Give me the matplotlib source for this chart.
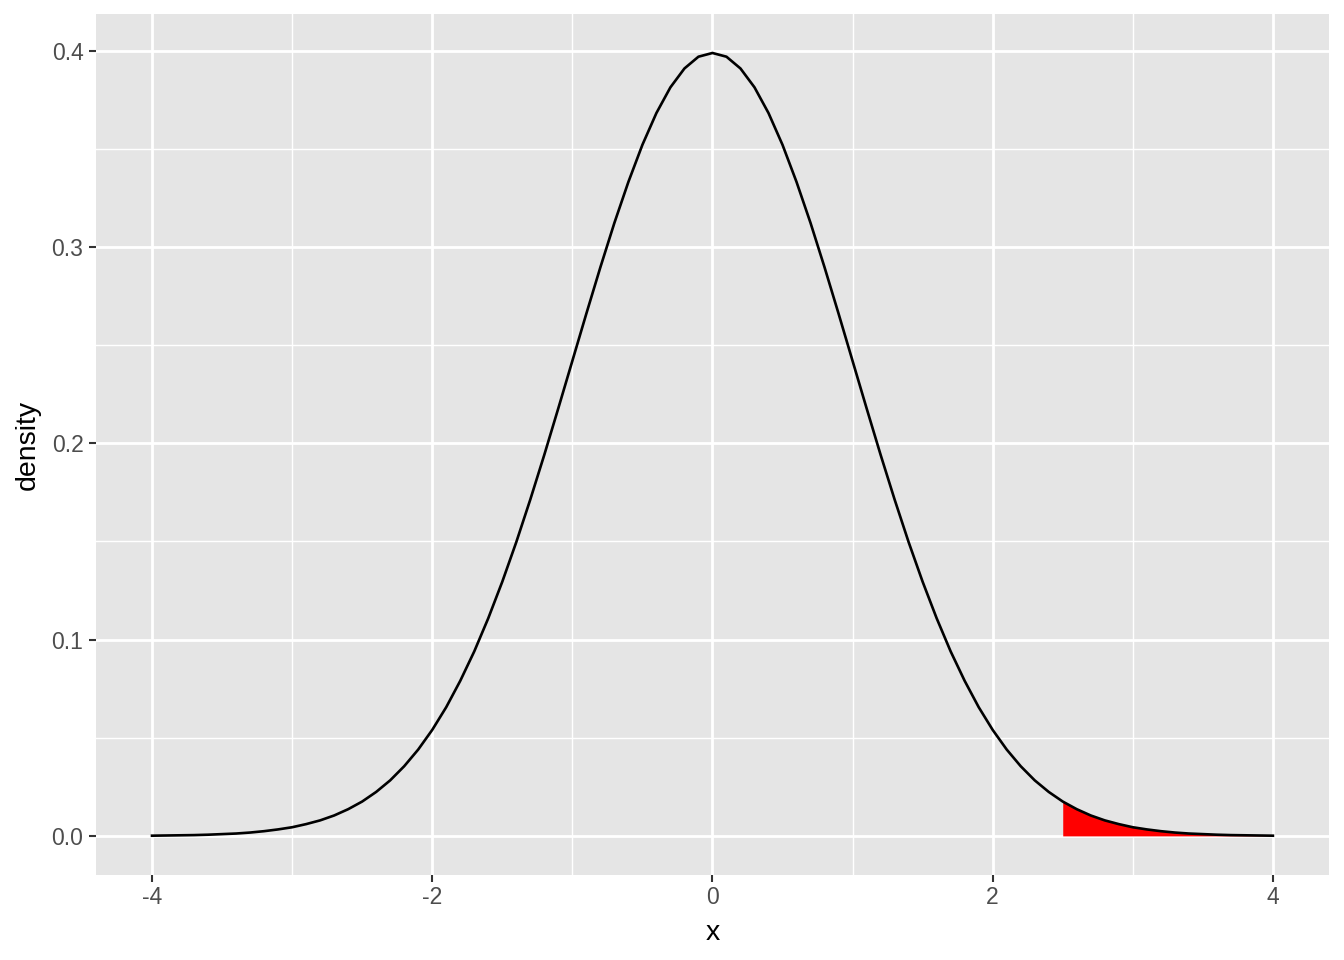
import matplotlib
matplotlib.use("Agg")
import matplotlib.pyplot as plt

# density curve, every 0.1 along x
curve_x = [round(-4.0 + 0.1 * i, 1) for i in range(81)]
curve_y = [0.0001, 0.0002, 0.0003, 0.0004, 0.0006, 0.0009, 0.0012, 0.0017, 0.0024, 0.0033,
           0.0044, 0.0060, 0.0079, 0.0104, 0.0136, 0.0175, 0.0224, 0.0283, 0.0355, 0.0440,
           0.0540, 0.0656, 0.0790, 0.0940, 0.1109, 0.1295, 0.1497, 0.1714, 0.1942, 0.2179,
           0.2420, 0.2661, 0.2897, 0.3123, 0.3332, 0.3521, 0.3683, 0.3814, 0.3910, 0.3970,
           0.3989,
           0.3970, 0.3910, 0.3814, 0.3683, 0.3521, 0.3332, 0.3123, 0.2897, 0.2661, 0.2420,
           0.2179, 0.1942, 0.1714, 0.1497, 0.1295, 0.1109, 0.0940, 0.0790, 0.0656, 0.0540,
           0.0440, 0.0355, 0.0283, 0.0224, 0.0175, 0.0136, 0.0104, 0.0079, 0.0060, 0.0044,
           0.0033, 0.0024, 0.0017, 0.0012, 0.0009, 0.0006, 0.0004, 0.0003, 0.0002, 0.0001]

# shaded upper tail
tail_x = [2.5, 2.6, 2.7, 2.8, 2.9, 3.0, 3.1, 3.2, 3.3, 3.4, 3.5, 3.6, 3.7, 3.8, 3.9, 4.0]
tail_y = [0.0175, 0.0136, 0.0104, 0.0079, 0.0060, 0.0044, 0.0033, 0.0024, 0.0017,
          0.0012, 0.0009, 0.0006, 0.0004, 0.0003, 0.0002, 0.0001]

x_ticks = [-4, -2, 0, 2, 4]
y_ticks = [0.0, 0.1, 0.2, 0.3, 0.4]

plt.rcParams["font.family"] = ["Liberation Sans", "DejaVu Sans"]

fig = plt.figure(figsize=(13.44, 9.6), dpi=100)
ax = fig.add_axes([0.0714, 0.0885, 0.9174, 0.897])
ax.set_facecolor("#E5E5E5")

# grid
for v in [-3, -1, 1, 3]:
    ax.axvline(v, color="white", lw=1.0, zorder=0)
for v in [0.05, 0.15, 0.25, 0.35]:
    ax.axhline(v, color="white", lw=1.0, zorder=0)
for v in x_ticks:
    ax.axvline(v, color="white", lw=2.0, zorder=0)
for v in y_ticks:
    ax.axhline(v, color="white", lw=2.0, zorder=0)

ax.fill_between(tail_x, 0, tail_y, color="red", lw=0, zorder=2)
ax.plot(curve_x, curve_y, color="black", lw=1.9, zorder=3, solid_joinstyle="round")

ax.set_xlim(-4.4, 4.4)
ax.set_ylim(-0.01995, 0.4188)
ax.set_xticks(x_ticks)
ax.set_xticklabels([str(v) for v in x_ticks])
ax.set_yticks(y_ticks)
ax.set_yticklabels([f"{v:.1f}" for v in y_ticks])

for s in ax.spines.values():
    s.set_visible(False)
ax.tick_params(axis="both", colors="#333333", length=5, width=1.5,
               labelcolor="#4D4D4D", labelsize=16.5, pad=3)
ax.tick_params(axis="y", pad=4)

ax.set_xlabel("x", fontsize=20.5, color="black", labelpad=8)
ax.set_ylabel("density", fontsize=20.5, color="black", labelpad=8)

fig.savefig("out.png", dpi=100)
